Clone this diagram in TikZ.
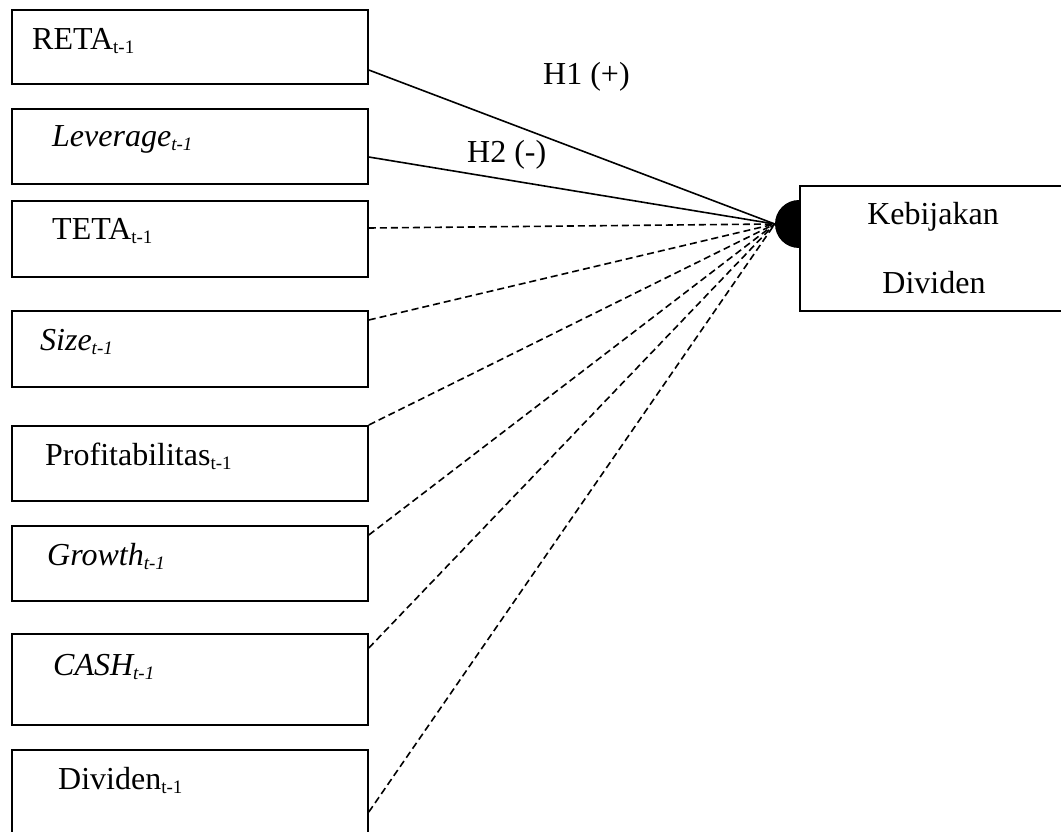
\documentclass[tikz,border=0pt]{standalone}
\usepackage{fontspec}
\setmainfont{Liberation Serif}
\usetikzlibrary{calc}
\newcommand{\subt}[1]{\raisebox{-4pt}{\fontsize{19}{19}\selectfont #1}}
\tikzset{
  varbox/.style={draw, line width=1.8pt, fill=white, rectangle, anchor=north west, inner sep=0pt, minimum width=356pt},
  lbl/.style={anchor=base west, inner sep=0pt, font=\fontsize{32}{38}\selectfont},
  ctr/.style={anchor=base, inner sep=0pt, font=\fontsize{32}{38}\selectfont},
  solidlink/.style={line width=1.6pt},
  dashlink/.style={line width=1.6pt, dash pattern=on 7pt off 4pt},
}
\begin{document}
\begin{tikzpicture}[x=1pt,y=-1pt]
\useasboundingbox (0,0) rectangle (1061,832);
\clip (0,0) rectangle (1061,832);
% left boxes
\node[varbox, minimum height=74pt] (b1) at (11,9) {};
\node[varbox, minimum height=75pt] (b2) at (11,108) {};
\node[varbox, minimum height=76pt] (b3) at (11,200) {};
\node[varbox, minimum height=76pt] (b4) at (11,310) {};
\node[varbox, minimum height=75pt] (b5) at (11,425) {};
\node[varbox, minimum height=75pt] (b6) at (11,525) {};
\node[varbox, minimum height=91pt] (b7) at (11,633) {};
\node[varbox, minimum height=91pt] (b8) at (11,749) {};
% labels
\node[lbl] (t1) at (32,50) {RETA\subt{t-1}};
\node[lbl] (t2) at (52,147) {\itshape Leverage\subt{t-1}};
\node[lbl] (t3) at (52,240) {TETA\subt{t-1}};
\node[lbl] (t4) at (40,350) {\itshape Size\subt{t-1}};
\node[lbl] (t5) at (45,465) {Profitabilitas\subt{t-1}};
\node[lbl] (t6) at (47,565) {\itshape Growth\subt{t-1}};
\node[lbl] (t7) at (53,675) {\itshape CASH\subt{t-1}};
\node[lbl] (t8) at (58,789) {Dividen\subt{t-1}};
% dependent variable
\node[circle, fill=black, inner sep=0pt, minimum size=48pt] (knob) at (799,224) {};
\node[draw, line width=1.8pt, fill=white, rectangle, anchor=north west, inner sep=0pt,
      minimum width=300pt, minimum height=125pt] (kd) at (799,185) {};
\node[ctr] (k1) at (933,225) {Kebijakan};
\node[ctr] (k2) at (934,293) {Dividen};
\coordinate (hub) at (knob.west);
% start points on box edges
\coordinate (s1) at ($(b1.north east)+(0,61)$);
\coordinate (s2) at ($(b2.north east)+(0,49)$);
\coordinate (s3) at ($(b3.north east)+(0,28)$);
\coordinate (s4) at ($(b4.north east)+(0,10)$);
\coordinate (s5) at (b5.north east);
\coordinate (s6) at ($(b6.north east)+(0,10)$);
\coordinate (s7) at ($(b7.north east)+(0,15)$);
\coordinate (s8) at ($(b8.north east)+(0,63)$);
% connectors
\draw[solidlink] (s1) -- (hub);
\draw[solidlink] (s2) -- (hub);
\foreach \i in {3,...,8} { \draw[dashlink] (s\i) -- (hub); }
% hypothesis labels
\node[lbl] (h1) at (543,85) {H1 (+)};
\node[lbl] (h2) at (467,163) {H2 (-)};
\end{tikzpicture}
\end{document}
